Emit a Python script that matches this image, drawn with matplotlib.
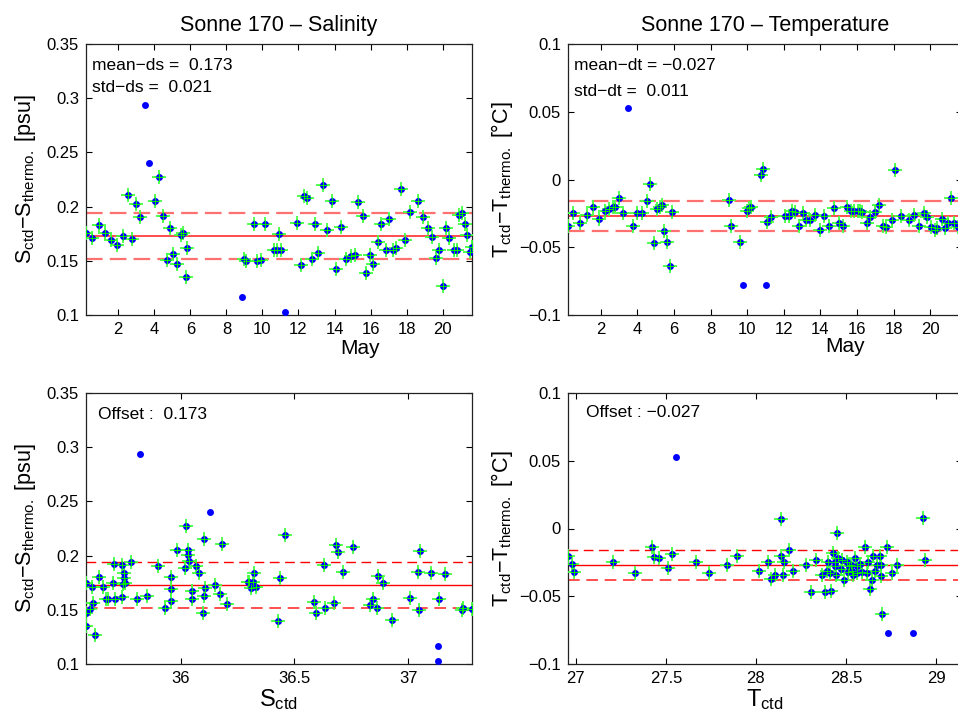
import numpy as np
import matplotlib
matplotlib.use('Agg')
import matplotlib.pyplot as plt
from matplotlib.ticker import FuncFormatter
from matplotlib.transforms import blended_transform_factory

plt.rcParams['font.family'] = ['Liberation Sans', 'DejaVu Sans']
plt.rcParams['mathtext.fontset'] = 'custom'
plt.rcParams['mathtext.rm'] = 'Liberation Sans'
plt.rcParams['mathtext.it'] = 'Liberation Sans:italic'

# Salinity difference vs. day of May (accepted samples)
sal_day = [0.21, 0.56, 0.91, 1.26, 1.59, 1.94, 2.26, 2.54, 2.74, 2.98, 3.22, 4.02, 4.26, 4.46,
           4.68, 4.87, 5.05, 5.24, 5.46, 5.61, 5.79, 5.74, 8.97, 9.07, 9.53, 9.70, 9.90, 10.14,
           10.66, 10.82, 10.92, 11.05, 11.93, 12.14, 12.32, 12.49, 12.73, 12.93, 13.10, 13.36,
           13.56, 13.86, 14.08, 14.34, 14.62, 14.89, 15.13, 15.30, 15.56, 15.73, 15.98, 16.15,
           16.43, 16.60, 16.85, 17.04, 17.26, 17.41, 17.70, 17.89, 18.20, 18.65, 18.91, 19.18,
           19.41, 19.63, 19.81, 20.02, 20.20, 20.37, 20.63, 20.78, 20.92, 21.05, 21.24, 21.37,
           21.50, 21.63]
sal_diff = [0.176, 0.171, 0.183, 0.176, 0.169, 0.165, 0.173, 0.211, 0.170, 0.202, 0.190, 0.205,
            0.227, 0.191, 0.151, 0.180, 0.156, 0.147, 0.174, 0.176, 0.162, 0.135, 0.152, 0.150,
            0.184, 0.150, 0.151, 0.184, 0.160, 0.160, 0.175, 0.160, 0.185, 0.146, 0.210, 0.208,
            0.152, 0.184, 0.157, 0.220, 0.178, 0.205, 0.142, 0.181, 0.152, 0.154, 0.155, 0.204,
            0.191, 0.139, 0.155, 0.147, 0.167, 0.184, 0.160, 0.189, 0.160, 0.162, 0.216, 0.169,
            0.195, 0.205, 0.190, 0.180, 0.172, 0.153, 0.160, 0.127, 0.180, 0.171, 0.160, 0.160,
            0.192, 0.194, 0.184, 0.174, 0.158, 0.163]
# rejected salinity samples
sal_bad_day = [3.48, 3.72, 8.88, 11.23]
sal_bad_diff = [0.294, 0.240, 0.117, 0.103]

# Temperature difference vs. day of May
tem_day = [0.20, 0.51, 0.89, 1.23, 1.56, 1.93, 2.22, 2.47, 2.66, 2.80, 2.98, 3.24, 3.77, 4.00,
           4.24, 4.50, 4.68, 4.90, 5.06, 5.21, 5.33, 5.48, 5.61, 5.79, 5.90, 9.03, 9.14, 9.62,
           9.98, 10.09, 10.22, 10.74, 10.89, 11.11, 11.29, 12.07, 12.26, 12.44, 12.62, 12.84,
           13.04, 13.22, 13.46, 13.70, 13.97, 14.19, 14.48, 14.75, 15.01, 15.26, 15.45, 15.66,
           15.86, 16.05, 16.17, 16.30, 16.57, 16.74, 16.99, 17.18, 17.45, 17.60, 17.90, 18.09,
           18.40, 18.87, 19.11, 19.38, 19.64, 19.82, 20.04, 20.24, 20.40, 20.66, 20.80, 20.97,
           21.13, 21.31, 21.51]
tem_diff = [-0.034, -0.025, -0.032, -0.026, -0.020, -0.029, -0.023, -0.022, -0.020, -0.020,
            -0.014, -0.025, -0.034, -0.025, -0.025, -0.016, -0.003, -0.047, -0.022, -0.020,
            -0.019, -0.038, -0.046, -0.064, -0.024, -0.015, -0.034, -0.046, -0.023, -0.021,
            -0.020, 0.003, 0.008, -0.031, -0.028, -0.027, -0.027, -0.023, -0.024, -0.034,
            -0.025, -0.030, -0.030, -0.026, -0.037, -0.027, -0.034, -0.021, -0.032, -0.034,
            -0.020, -0.023, -0.023, -0.023, -0.023, -0.024, -0.032, -0.028, -0.024, -0.019,
            -0.034, -0.035, -0.030, 0.007, -0.027, -0.030, -0.026, -0.034, -0.025, -0.028,
            -0.035, -0.037, -0.036, -0.029, -0.036, -0.032, -0.014, -0.032, -0.035]
tem_bad_day = [3.49, 9.78, 11.04]
tem_bad_diff = [0.053, -0.078, -0.078]

# Salinity difference vs. CTD salinity
sal_ctd = [35.584, 35.584, 35.584, 35.600, 35.611, 35.616, 35.625, 35.640, 35.660, 35.672,
           35.682, 35.704, 35.709, 35.712, 35.741, 35.742, 35.748, 35.751, 35.753, 35.754,
           35.783, 35.810, 35.852, 35.899, 35.933, 35.959, 35.959, 35.959, 35.982, 36.018,
           36.023, 36.032, 36.034, 36.037, 36.050, 36.050, 36.067, 36.082, 36.097, 36.102,
           36.104, 36.108, 36.151, 36.174, 36.182, 36.202, 36.294, 36.302, 36.307, 36.316,
           36.322, 36.331, 36.429, 36.436, 36.458, 36.586, 36.594, 36.628, 36.633, 36.673,
           36.684, 36.691, 36.712, 36.755, 36.832, 36.846, 36.861, 36.868, 36.890, 36.927,
           37.007, 37.044, 37.047, 37.051, 37.100, 37.133, 37.163, 37.237, 37.242, 37.280]
sal_ctd_diff = [0.175, 0.147, 0.135, 0.151, 0.171, 0.156, 0.127, 0.180, 0.171, 0.160, 0.160,
                0.175, 0.192, 0.160, 0.191, 0.162, 0.174, 0.179, 0.184, 0.175, 0.194, 0.160,
                0.163, 0.190, 0.152, 0.180, 0.169, 0.158, 0.205, 0.189, 0.227, 0.205, 0.201,
                0.195, 0.167, 0.160, 0.190, 0.184, 0.147, 0.163, 0.215, 0.170, 0.173, 0.165,
                0.211, 0.155, 0.176, 0.176, 0.170, 0.176, 0.184, 0.171, 0.140, 0.179, 0.219,
                0.157, 0.147, 0.191, 0.152, 0.156, 0.210, 0.203, 0.185, 0.208, 0.154, 0.160,
                0.152, 0.181, 0.175, 0.141, 0.161, 0.185, 0.150, 0.204, 0.184, 0.160, 0.183,
                0.150, 0.152, 0.151]
sal_ctd_bad = [35.823, 36.127, 37.132, 37.129]
sal_ctd_bad_diff = [0.294, 0.240, 0.117, 0.103]

# Temperature difference vs. CTD temperature
tem_ctd = [26.956, 26.978, 26.991, 27.209, 27.331, 27.422, 27.435, 27.461, 27.514, 27.533,
           27.666, 27.740, 27.838, 27.894, 28.019, 28.069, 28.086, 28.106, 28.138, 28.142,
           28.149, 28.156, 28.186, 28.206, 28.277, 28.306, 28.334, 28.365, 28.382, 28.393,
           28.402, 28.412, 28.417, 28.430, 28.439, 28.445, 28.449, 28.458, 28.476, 28.491,
           28.504, 28.519, 28.532, 28.541, 28.550, 28.560, 28.578, 28.587, 28.606, 28.615,
           28.624, 28.634, 28.643, 28.648, 28.661, 28.671, 28.689, 28.693, 28.697, 28.698,
           28.726, 28.758, 28.782, 28.930, 28.939, 28.470, 28.530, 28.560, 28.510, 28.440]
tem_ctd_diff = [-0.020, -0.026, -0.032, -0.025, -0.033, -0.014, -0.021, -0.022, -0.029, -0.019,
                -0.025, -0.033, -0.027, -0.020, -0.031, -0.025, -0.037, -0.034, 0.007, -0.020,
                -0.034, -0.025, -0.016, -0.031, -0.027, -0.047, -0.023, -0.034, -0.047, -0.031,
                -0.025, -0.033, -0.046, -0.018, -0.028, -0.034, -0.003, -0.022, -0.023, -0.038,
                -0.025, -0.028, -0.031, -0.034, -0.022, -0.028, -0.026, -0.032, -0.014, -0.033,
                -0.025, -0.045, -0.038, -0.020, -0.031, -0.027, -0.020, -0.027, -0.035, -0.063,
                -0.014, -0.033, -0.027, 0.008, -0.023, -0.030, -0.027, -0.033, -0.032, -0.025]
tem_ctd_bad = [27.557, 28.734, 28.874]
tem_ctd_bad_diff = [0.053, -0.077, -0.077]

mean_ds, std_ds = 0.173, 0.021
mean_dt, std_dt = -0.027, 0.011


def fmt(v, pos):
    s = '%g' % round(v, 4)
    return s.replace('-', '\u2212')


def draw_points(ax, x, y, xb, yb):
    ax.plot(xb, yb, 'o', color='#0000ff', ms=5, mec='none', zorder=3)
    # green crosses first, blue dot, then a thin cross again on top
    ax.plot(x, y, '+', color='#44ff44', ms=10.5, mew=1.3, zorder=3)
    ax.plot(x, y, 'o', color='#0000ff', ms=5, mec='none', zorder=4)
    ax.plot(x, y, '+', color='#00ee00', ms=6, mew=0.7, zorder=5)


def style(ax):
    ax.tick_params(direction='in', top=True, right=True, length=4, labelsize=12, pad=5,
                   width=0.8)
    for sp in ax.spines.values():
        sp.set_linewidth(0.9)
        sp.set_color('#222222')
    ax.yaxis.set_major_formatter(FuncFormatter(fmt))
    ax.xaxis.set_major_formatter(FuncFormatter(fmt))


def ref_lines(ax, m, s, light):
    if light:
        ax.axhline(m, color='#ff4d4d', lw=1.4, zorder=2)
        ax.axhline(m + s, color='#ff7070', lw=1.6, ls=(0, (7.5, 3.2)), zorder=2)
        ax.axhline(m - s, color='#ff7070', lw=1.6, ls=(0, (7.5, 3.2)), zorder=2)
    else:
        ax.axhline(m, color='#ff0000', lw=1.0, zorder=2)
        ax.axhline(m + s, color='#ff0000', lw=1.0, ls=(0, (7, 4)), zorder=2)
        ax.axhline(m - s, color='#ff3030', lw=1.2, ls=(0, (7, 4)), zorder=2)


fig = plt.figure(figsize=(9.58, 7.18), dpi=100)
W, H = 958.0, 718.0

ax1 = fig.add_axes([86 / W, 1 - 315 / H, 386 / W, 271 / H])
ax2 = fig.add_axes([568 / W, 1 - 315 / H, 394 / W, 271 / H])
ax3 = fig.add_axes([86 / W, 1 - 664 / H, 386 / W, 271 / H])
ax4 = fig.add_axes([568 / W, 1 - 664 / H, 394 / W, 271 / H])

ylab_s = r'S$_{\rm ctd}$' + '\u2212' + r'S$_{\rm thermo.}$ [psu]'
ylab_t = r'T$_{\rm ctd}$' + '\u2212' + r'T$_{\rm thermo.}$ [°C]'

# top left: salinity vs time
ref_lines(ax1, mean_ds, std_ds, True)
draw_points(ax1, sal_day, sal_diff, sal_bad_day, sal_bad_diff)
ax1.set_xlim(0.21, 21.63)
ax1.set_ylim(0.1, 0.35)
ax1.set_xticks(np.arange(2, 21, 2))
ax1.set_yticks(np.arange(0.1, 0.351, 0.05))
style(ax1)
ax1.set_title('Sonne 170 \u2013 Salinity', fontsize=15.5, pad=9)
ax1.set_ylabel(ylab_s, fontsize=15.5)
ax1.yaxis.set_label_coords(-0.125, 0.5)
ax1.text(0.016, 0.92, 'mean\u2212ds =  0.173', transform=ax1.transAxes, fontsize=12.5,
         va='center')
ax1.text(0.016, 0.838, 'std\u2212ds =  0.021', transform=ax1.transAxes, fontsize=12.5,
         va='center')
ax1.text(15.4, -0.125, 'May', transform=blended_transform_factory(ax1.transData, ax1.transAxes),
         fontsize=15, ha='center', va='center')

# top right: temperature vs time
ref_lines(ax2, mean_dt, std_dt, True)
draw_points(ax2, tem_day, tem_diff, tem_bad_day, tem_bad_diff)
ax2.set_xlim(0.21, 21.74)
ax2.set_ylim(-0.1, 0.1)
ax2.set_xticks(np.arange(2, 21, 2))
ax2.set_yticks(np.arange(-0.1, 0.101, 0.05))
style(ax2)
ax2.set_title('Sonne 170 \u2013 Temperature', fontsize=15.5, pad=9)
ax2.set_ylabel(ylab_t, fontsize=15.5)
ax2.yaxis.set_label_coords(-0.135, 0.5)
ax2.text(0.015, 0.922, 'mean\u2212dt = \u22120.027', transform=ax2.transAxes, fontsize=12.5,
         va='center')
ax2.text(0.015, 0.824, 'std\u2212dt =  0.011', transform=ax2.transAxes, fontsize=12.5,
         va='center')
ax2.text(15.35, -0.118, 'May', transform=blended_transform_factory(ax2.transData, ax2.transAxes),
         fontsize=15, ha='center', va='center')

# bottom left: salinity difference vs CTD salinity
ref_lines(ax3, mean_ds, std_ds, False)
draw_points(ax3, sal_ctd, sal_ctd_diff, sal_ctd_bad, sal_ctd_bad_diff)
ax3.set_xlim(35.584, 37.28)
ax3.set_ylim(0.1, 0.35)
ax3.set_xticks([36, 36.5, 37])
ax3.set_yticks(np.arange(0.1, 0.351, 0.05))
style(ax3)
ax3.set_ylabel(ylab_s, fontsize=15.5)
ax3.yaxis.set_label_coords(-0.125, 0.5)
ax3.set_xlabel(r'S$_{\rm ctd}$', fontsize=17, labelpad=1)
ax3.text(0.030, 0.919, 'Offset :  0.173', transform=ax3.transAxes, fontsize=12.5,
         va='center')

# bottom right: temperature difference vs CTD temperature
ref_lines(ax4, mean_dt, std_dt, False)
draw_points(ax4, tem_ctd, tem_ctd_diff, tem_ctd_bad, tem_ctd_bad_diff)
ax4.set_xlim(26.957, 29.144)
ax4.set_ylim(-0.1, 0.1)
ax4.set_xticks([27, 27.5, 28, 28.5, 29])
ax4.set_yticks(np.arange(-0.1, 0.101, 0.05))
style(ax4)
ax4.set_ylabel(ylab_t, fontsize=15.5)
ax4.yaxis.set_label_coords(-0.135, 0.5)
ax4.set_xlabel(r'T$_{\rm ctd}$', fontsize=17, labelpad=1)
ax4.text(0.046, 0.927, 'Offset : \u22120.027', transform=ax4.transAxes, fontsize=12.5,
         va='center')

fig.savefig('out.png', dpi=100)
